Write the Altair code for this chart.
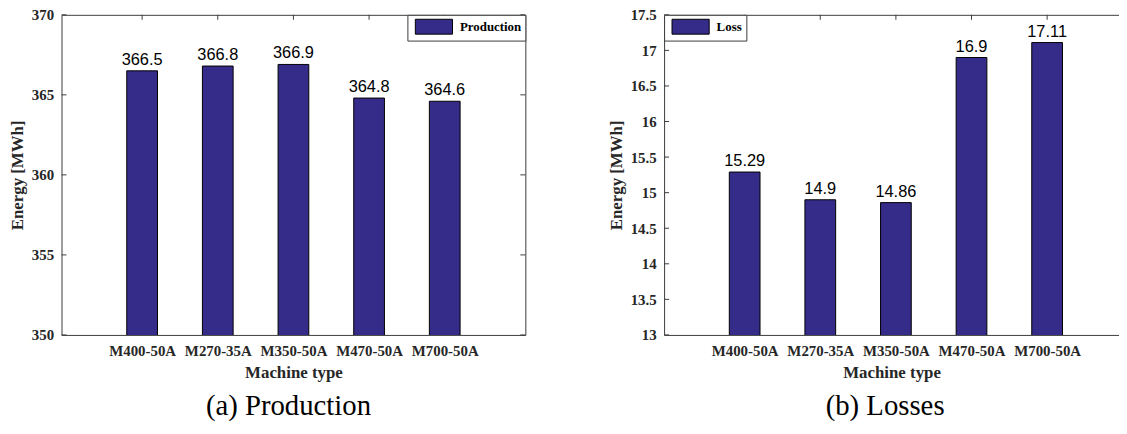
import altair as alt
import pandas as pd

machines = ["M400-50A", "M270-35A", "M350-50A", "M470-50A", "M700-50A"]
positions = [1, 2, 3, 4, 5]
production = [366.5, 366.8, 366.9, 364.8, 364.6]
losses = [15.29, 14.9, 14.86, 16.9, 17.11]
prod_ticks = [350, 355, 360, 365, 370]
loss_ticks = [13, 13.5, 14, 14.5, 15, 15.5, 16, 16.5, 17, 17.5]

BAR = "#352B88"
LINE = "#3c3c3c"
TEXT = "#262626"
SERIF = "Liberation Serif"
SANS = "Liberation Sans"

label_expr = "[" + ",".join(f"'{m}'" for m in machines) + "][datum.value - 1]"


def panel(values, series, ticks, ydomain, xmax, width, height, legend_orient,
          caption, caption_dx, right_border, yformat):
    df = pd.DataFrame({"pos": positions, "machine": machines,
                       "value": values, "series": [series] * len(values)})
    tdf = pd.DataFrame({"tick": ticks})
    xscale = alt.Scale(domain=[0, xmax], nice=False, zero=False)
    yscale = alt.Scale(domain=ydomain, nice=False, zero=False)

    bars = alt.Chart(df).mark_bar(size=31, stroke="black", strokeWidth=1, clip=True).encode(
        x=alt.X("pos:Q", scale=xscale,
                axis=alt.Axis(orient="bottom", values=positions, labelExpr=label_expr,
                              title="Machine type", domain=True, ticks=False, tickSize=0,
                              labelPadding=9, titlePadding=6, labelOverlap=False)),
        y=alt.Y("value:Q", scale=yscale,
                axis=alt.Axis(orient="left", values=ticks, format=yformat,
                              title="Energy [MWh]", domain=True, ticks=False, tickSize=0,
                              labelPadding=8, titlePadding=5, labelOverlap=False)),
        color=alt.Color("series:N",
                        scale=alt.Scale(domain=[series], range=[BAR]),
                        legend=alt.Legend(title=None, orient=legend_orient, offset=0,
                                          padding=4, strokeColor=LINE, fillColor="white",
                                          symbolType="M-1,-1H4V1H-1Z", symbolSize=225,
                                          symbolStrokeColor="black", symbolStrokeWidth=1,
                                          symbolOffset=3.5, labelOffset=29.5,
                                          labelFont=SERIF, labelFontWeight="bold",
                                          labelFontSize=13, labelColor="black")),
    )

    labels = alt.Chart(df).mark_text(font=SANS, fontSize=16.5, dy=-6,
                                     baseline="alphabetic", color="black").encode(
        x=alt.X("pos:Q", scale=xscale, axis=None),
        y=alt.Y("value:Q", scale=yscale, axis=None),
        text=alt.Text("value:Q", format="~g"),
    )

    top = alt.Chart(df).mark_rule(color=LINE, strokeWidth=1).encode(
        x=alt.X("pos:Q", scale=xscale,
                axis=alt.Axis(orient="top", labels=False, ticks=False, tickSize=0,
                              title=None, domain=True)),
        y=alt.value(0),
        y2=alt.value(5),
    )

    left_ticks = alt.Chart(tdf).mark_rule(color=LINE, strokeWidth=1).encode(
        y=alt.Y("tick:Q", scale=yscale, axis=None),
        x=alt.value(0),
        x2=alt.value(5),
    )

    layers = [bars, labels, top, left_ticks]
    if right_border:
        right_ticks = alt.Chart(tdf).mark_rule(color=LINE, strokeWidth=1).encode(
            y=alt.Y("tick:Q", scale=yscale,
                    axis=alt.Axis(orient="right", labels=False, ticks=False, tickSize=0,
                                  title=None, domain=True)),
            x=alt.value(width - 5),
            x2=alt.value(width),
        )
        layers.append(right_ticks)

    return alt.layer(*layers).resolve_axis(x="independent", y="independent").properties(
        width=width, height=height,
        title=alt.TitleParams(caption, orient="bottom", font=SERIF, fontSize=29,
                              fontWeight="normal", color="black", offset=12,
                              dx=caption_dx, anchor="middle", frame="group"),
    )


left = panel(production, "Production", prod_ticks, [350, 370], 6, 468, 323,
             "top-right", "(a) Production", -5, True, "d")
right = panel(losses, "Loss", loss_ticks, [13, 17.5], 5.885, 459, 323,
              "top-left", "(b) Losses", -6.5, False, "~g")

chart = alt.hconcat(left, right, spacing=81).resolve_scale(color="independent").configure_view(
    stroke=None
).configure_axis(
    grid=False, labelFont=SERIF, labelFontWeight="bold", labelFontSize=15, labelColor=TEXT,
    titleFont=SERIF, titleFontWeight="bold", titleFontSize=17, titleColor=TEXT,
    domainColor=LINE, domainWidth=1,
).properties(
    padding={"left": 0, "top": -2, "right": 0, "bottom": 3},
    background="white",
)

chart.save("out.html", embed_options={"renderer": "svg", "actions": False})
